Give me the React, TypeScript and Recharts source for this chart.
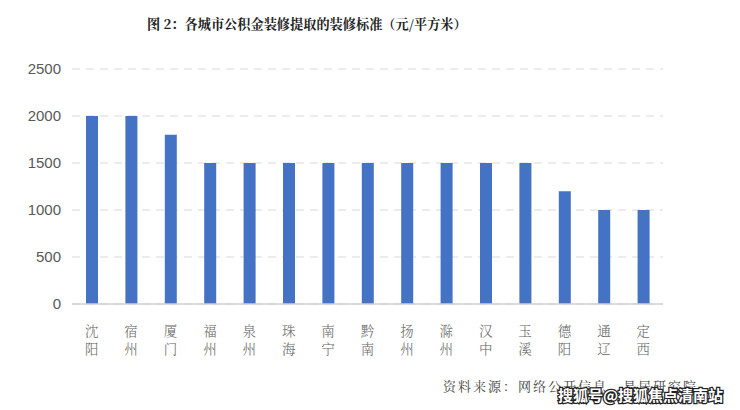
import React from "react";
import { BarChart, Bar, XAxis, YAxis, CartesianGrid } from "recharts";

const cities = ["沈阳", "宿州", "厦门", "福州", "泉州", "珠海", "南宁", "黔南", "扬州", "滁州", "汉中", "玉溪", "德阳", "通辽", "定西"];
const standards = [2000, 2000, 1800, 1500, 1500, 1500, 1500, 1500, 1500, 1500, 1500, 1500, 1200, 1000, 1000];
const yTicks = [0, 500, 1000, 1500, 2000, 2500];

const title = "图 2：各城市公积金装修提取的装修标准（元/平方米）";
const source = "资料来源：网络公开信息，易居研究院";
const watermark = "搜狐号@搜狐焦点清南站";

const data = cities.map((c, i) => ({ city: c, value: standards[i] }));

const serif = "'Noto Serif CJK SC', 'Noto Sans CJK SC', serif";

const CityTick = (props: any) => {
  const { x, y, payload } = props;
  const chars: string[] = Array.from(String(payload.value));
  return (
    <g>
      {chars.map((ch, i) => (
        <text
          key={i}
          x={x}
          y={y + 24 + i * 18}
          textAnchor="middle"
          fontSize={13.5}
          fill="#666"
          fontFamily={serif}
          fontWeight={300}
        >
          {ch}
        </text>
      ))}
    </g>
  );
};

export default function App() {
  return (
    <div style={{ position: "fixed", left: 0, top: 0, width: 740, height: 410, background: "#fff" }}>
      <BarChart
        width={740}
        height={410}
        data={data}
        margin={{ top: 69, right: 77, bottom: 0, left: 0 }}
        barCategoryGap={0}
      >
        <CartesianGrid vertical={false} stroke="#d9d9d9" strokeDasharray="8 6" />
        <XAxis
          dataKey="city"
          height={106}
          tick={<CityTick />}
          tickLine={false}
          axisLine={{ stroke: "#d0d0d0", strokeWidth: 1.5 }}
          interval={0}
        />
        <YAxis
          width={72}
          domain={[0, 2500]}
          ticks={yTicks}
          tickLine={false}
          axisLine={false}
          tickSize={0}
          tickMargin={11}
          tick={{ fontSize: 15, fill: "#595959", fontFamily: "'Liberation Sans', Arial, sans-serif" }}
        />
        <Bar dataKey="value" fill="#4472C4" barSize={12} isAnimationActive={false} />
        <text x={147} y={29} fontSize={13.2} fontWeight={700} fill="#222" fontFamily={serif}>
          {title}
        </text>
        <text x={443} y={391} fontSize={13} fill="#444" fontFamily={serif} letterSpacing={2}>
          {source}
        </text>
        <text
          x={558}
          y={401}
          fontSize={15}
          fontWeight={700}
          fill="#fff"
          stroke="#222"
          strokeWidth={2.5}
          paintOrder="stroke"
          fontFamily="'Noto Sans CJK SC', sans-serif"
        >
          {watermark}
        </text>
      </BarChart>
    </div>
  );
}
